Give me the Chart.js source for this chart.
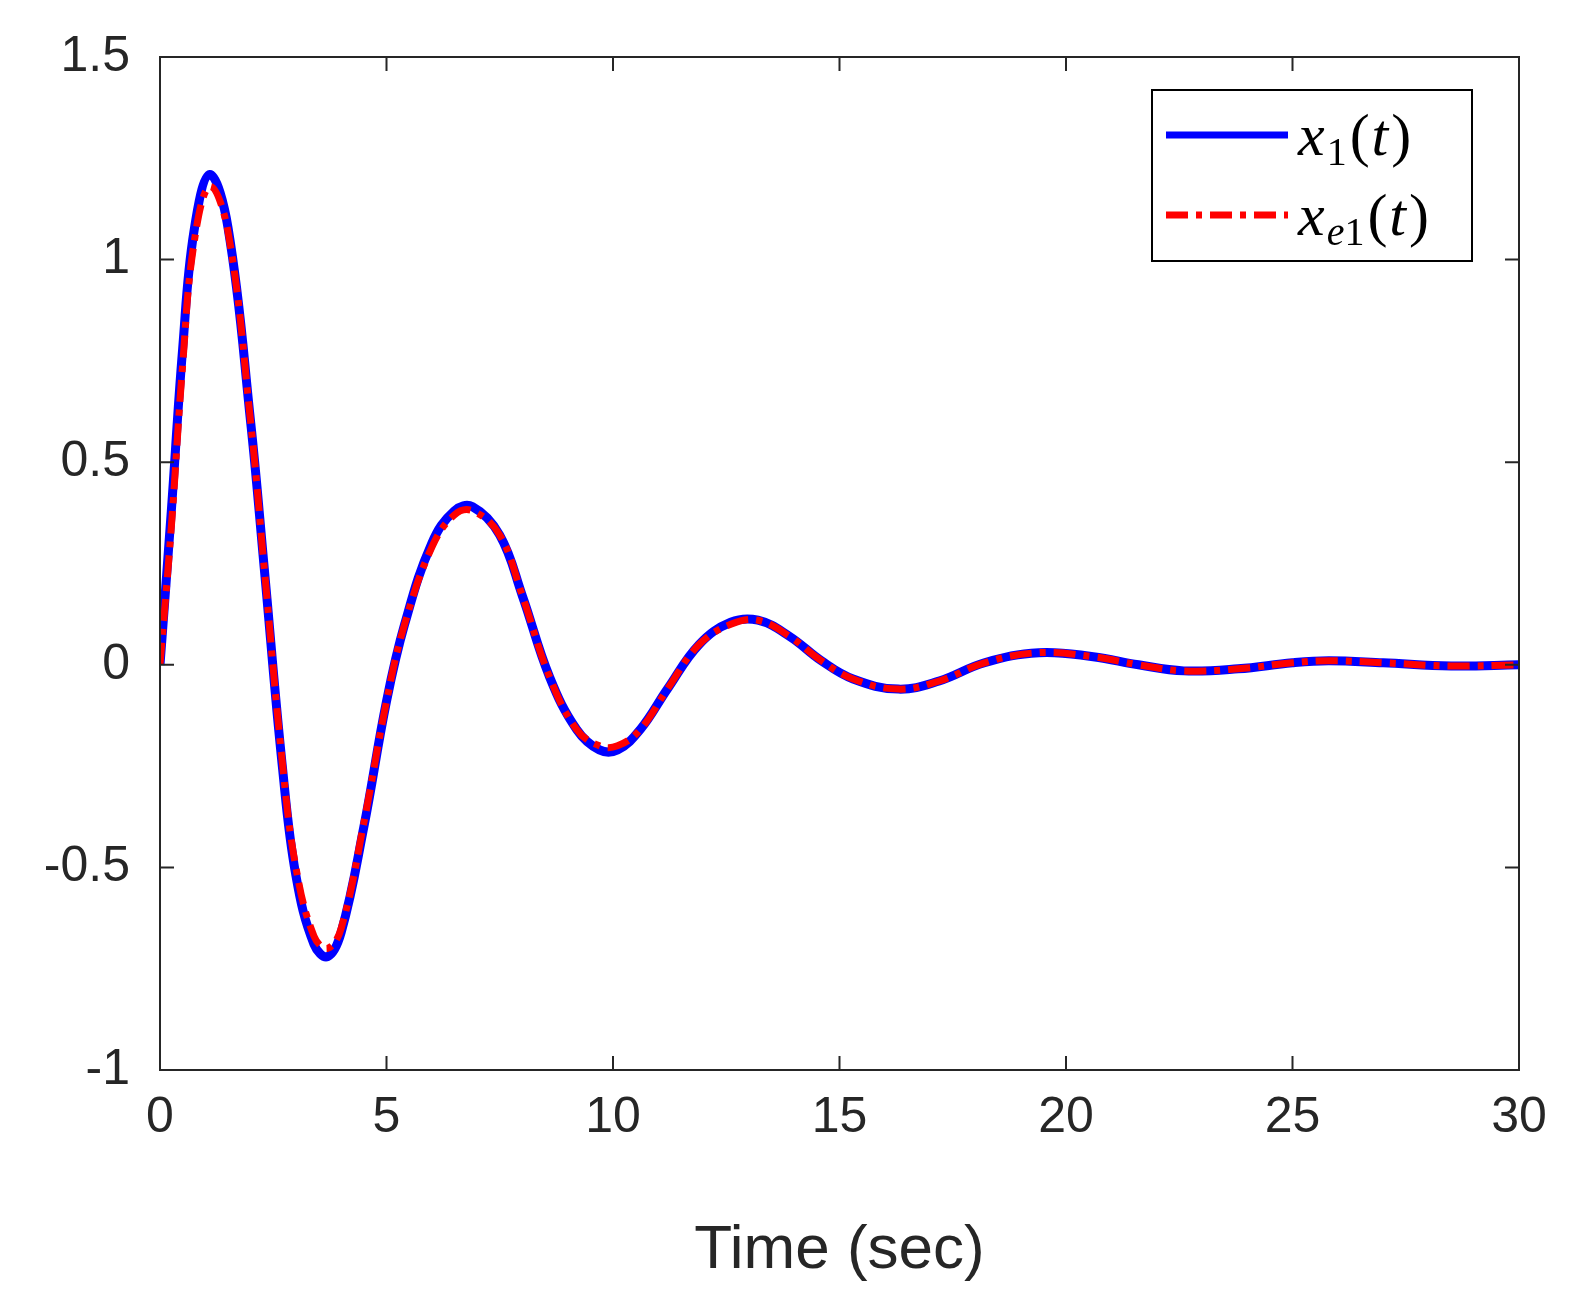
<!DOCTYPE html>
<html><head><meta charset="utf-8">
<script src="https://cdn.jsdelivr.net/npm/chart.js@4/dist/chart.umd.min.js"></script>
<style>html,body{margin:0;padding:0;background:#fff}#w{width:1581px;height:1292px}</style>
</head><body><div id="w"><canvas id="c"></canvas></div>
<script>
const times = [0,0.25,0.5,0.75,1.1,1.5,2.0,2.3,2.7,3.0,3.4,3.7,4.0,4.5,5.0,5.4,6.0,6.5,6.9,7.5,8.0,8.6,9.2,9.7,10.1,10.6,11.2,11.9,12.6,13.2,13.9,14.6,15.3,16.3,17.2,18.2,19.4,20.6,21.6,22.6,23.8,25.0,25.8,27.0,28.5,30];
const x1 =  [0,0.38,0.78,1.07,1.21,1.08,0.6,0.24,-0.25,-0.52,-0.69,-0.72,-0.66,-0.4,-0.09,0.1,0.3,0.38,0.39,0.32,0.17,-0.03,-0.16,-0.21,-0.21,-0.16,-0.06,0.05,0.105,0.11,0.07,0.01,-0.035,-0.06,-0.04,0.005,0.03,0.02,0.0,-0.015,-0.01,0.005,0.01,0.005,-0.003,0];
const xe1 = [0,0.34,0.74,1.04,1.18,1.07,0.6,0.24,-0.24,-0.5,-0.67,-0.70,-0.65,-0.39,-0.09,0.1,0.29,0.37,0.38,0.32,0.17,-0.03,-0.16,-0.20,-0.20,-0.16,-0.06,0.05,0.10,0.11,0.07,0.01,-0.035,-0.06,-0.04,0.005,0.03,0.02,0.0,-0.015,-0.01,0.005,0.01,0.005,-0.003,0];
const xTicks = [0,5,10,15,20,25,30];
const yTicks = [-1,-0.5,0,0.5,1,1.5];
const txt = '#262626';
const SF='"Liberation Serif", serif';
const frame = {id:'frame', afterDraw(ch){
  const {ctx, chartArea:a, scales:{x,y}} = ch;
  ctx.save(); ctx.strokeStyle='#262626'; ctx.lineWidth=2;
  ctx.strokeRect(a.left,a.top,a.right-a.left,a.bottom-a.top);
  ctx.beginPath();
  xTicks.forEach(v=>{const p=x.getPixelForValue(v);ctx.moveTo(p,a.bottom);ctx.lineTo(p,a.bottom-14);ctx.moveTo(p,a.top);ctx.lineTo(p,a.top+14);});
  yTicks.forEach(v=>{const p=y.getPixelForValue(v);ctx.moveTo(a.left,p);ctx.lineTo(a.left+14,p);ctx.moveTo(a.right,p);ctx.lineTo(a.right-14,p);});
  ctx.stroke();
  const L=1152,T=90,W=320,H=171;
  ctx.fillStyle='#fff';ctx.fillRect(L,T,W,H);ctx.strokeStyle='#000';ctx.lineWidth=2;ctx.strokeRect(L,T,W,H);
  ctx.lineWidth=7;ctx.strokeStyle='#0000ff';ctx.beginPath();ctx.moveTo(1166,135);ctx.lineTo(1288,135);ctx.stroke();
  ctx.lineWidth=7;ctx.strokeStyle='#ff0000';ctx.setLineDash([22,8,6,8]);ctx.beginPath();ctx.moveTo(1166,215);ctx.lineTo(1288,215);ctx.stroke();ctx.setLineDash([]);
  ctx.fillStyle='#000';ctx.textBaseline='alphabetic';
  const draw=(x0,yb,subs)=>{
    ctx.font='italic 60px '+SF;ctx.fillText('x',x0,yb);let xx=x0+ctx.measureText('x').width+2;
    subs.forEach(([s,it])=>{ctx.font=(it?'italic ':'')+'40px '+SF;ctx.fillText(s,xx,yb+10);xx+=ctx.measureText(s).width;});
    xx+=3;
    ctx.font='60px '+SF;ctx.fillText('(',xx,yb);xx+=ctx.measureText('(').width+2;
    ctx.font='italic 60px '+SF;ctx.fillText('t',xx,yb);xx+=ctx.measureText('t').width+3;
    ctx.font='60px '+SF;ctx.fillText(')',xx,yb);
  };
  draw(1298,155,[['1',false]]);
  draw(1298,235,[['e',true],['1',false]]);
  ctx.restore();
}};
new Chart(document.getElementById('c'),{
  type:'line',
  data:{datasets:[
    {label:'x1(t)',data:times.map((t,i)=>({x:t,y:x1[i]})),borderColor:'#0000ff',borderWidth:9,pointRadius:0,tension:0.4,order:2},
    {label:'xe1(t)',data:times.map((t,i)=>({x:t,y:xe1[i]})),borderColor:'#ff0000',borderWidth:7,borderDash:[22,8,6,8],pointRadius:0,tension:0.4,order:1}
  ]},
  options:{responsive:true,maintainAspectRatio:false,animation:false,
    layout:{padding:{left:0,right:62,top:57,bottom:0}},
    plugins:{legend:{display:false},tooltip:{enabled:false}},
    scales:{
      x:{type:'linear',min:0,max:30,afterBuildTicks:s=>{s.ticks=xTicks.map(v=>({value:v}));},
        afterFit:s=>{s.height=222;},grid:{display:false},border:{display:false},
        ticks:{color:txt,font:{family:'Liberation Sans',size:50},padding:10,maxRotation:0,callback:v=>String(v)},
        title:{display:true,text:'Time (sec)',color:txt,font:{family:'Liberation Sans',size:62},padding:{top:0}}},
      y:{type:'linear',min:-1,max:1.5,afterBuildTicks:s=>{s.ticks=yTicks.map(v=>({value:v}));},
        afterFit:s=>{s.width=160;},grid:{display:false},border:{display:false},
        ticks:{color:txt,font:{family:'Liberation Sans',size:50},padding:22,callback:v=>String(v)}}
    }},
  plugins:[frame]
});
</script></body></html>
